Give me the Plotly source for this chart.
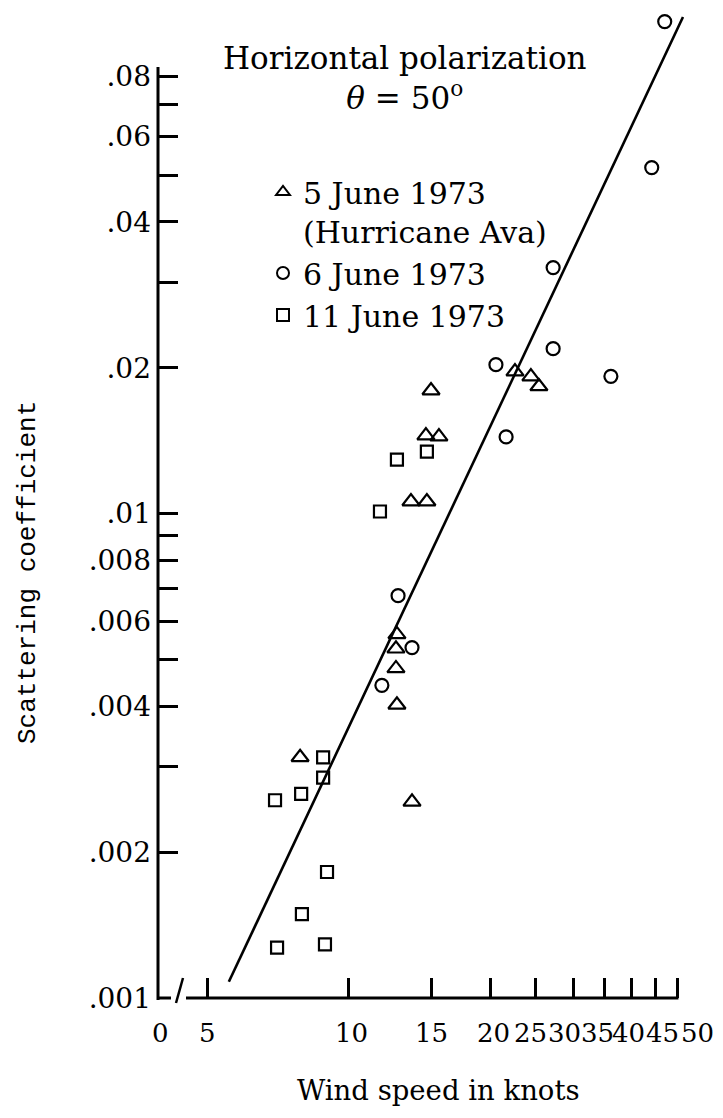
import math
import plotly.graph_objects as go

# --- measurements: wind speed (knots) vs. scattering coefficient -------------
june5_wind = [7.87, 13.62, 14.95, 14.58, 15.54, 13.55, 14.65, 12.65, 12.59,
              12.59, 12.65, 22.56, 24.39, 25.37]
june5_sigma = [0.00314, 0.00254, 0.01795, 0.01449, 0.01442, 0.01059, 0.01059,
               0.00563, 0.00526, 0.00479, 0.00403, 0.01964, 0.01918, 0.0183]

june6_wind = [47.0, 44.1, 27.2, 27.2, 36.1, 20.55, 21.6, 12.72, 13.62, 11.75]
june6_sigma = [0.1037, 0.0518, 0.0322, 0.0219, 0.0192, 0.0203, 0.0144,
               0.00677, 0.00529, 0.00442]

june11_wind = [14.65, 12.65, 11.64, 8.81, 8.81, 7.91, 6.96, 8.98, 7.94, 7.03, 8.89]
june11_sigma = [0.01343, 0.01293, 0.0101, 0.00314, 0.00285, 0.00264, 0.00256,
                0.00182, 0.00149, 0.00127, 0.00129]

# end points of the fitted power-law line
fit_wind = [5.55, 51.4]
fit_sigma = [0.00108, 0.106]

series_names = ["5 June 1973<br>(Hurricane Ava)", "6 June 1973", "11 June 1973"]

# --- axis ticks ---------------------------------------------------------------
x_tick_values = [5, 10, 15, 20, 25, 30, 35, 40, 45, 50]
x_tick_labels = ["5", "10", "15", "20", "25", "30", "35", "40", "45", "50"]
x_origin_label = "0"

y_tick_values = [0.001, 0.002, 0.004, 0.006, 0.008, 0.01, 0.02, 0.04, 0.06, 0.08]
y_tick_labels = [".001", ".002", ".004", ".006", ".008", ".01", ".02", ".04",
                 ".06", ".08"]
y_minor_values = [0.003, 0.005, 0.007, 0.009, 0.03, 0.05, 0.07]

# --- geometry -----------------------------------------------------------------
W, H = 723, 1118
L_PX, R_PX, T_PX, B_PX = 158, 705, 5, 998
X_LOG0 = 0.594                       # log10 of the broken-axis origin
X_LOG1 = X_LOG0 + (R_PX - L_PX) / 470.0
Y_LOG0 = -3.0
Y_LOG1 = Y_LOG0 + (B_PX - T_PX) / 484.4
X_ORIGIN = 10 ** (X_LOG0 + 0.0005)


def paper_x(px):
    return (px - L_PX) / (R_PX - L_PX)


def paper_y(py):
    return (B_PX - py) / (B_PX - T_PX)


def paper_x_of(v):
    return (math.log10(v) - X_LOG0) / (X_LOG1 - X_LOG0)


def paper_y_of(v):
    return (math.log10(v) - Y_LOG0) / (Y_LOG1 - Y_LOG0)


SERIF = "DejaVu Serif"
INK = "black"
TICK = dict(ticks="inside", ticklen=20, tickwidth=2.6, tickcolor=INK)

fig = go.Figure()

fig.add_trace(go.Scatter(
    x=fit_wind, y=fit_sigma, mode="lines",
    line=dict(color=INK, width=2.6), showlegend=False, hoverinfo="skip"))

marker_styles = [("triangle-up-open", 15), ("circle-open", 13), ("square-open", 12)]
for i, (name, xs, ys, (sym, size)) in enumerate(zip(
        series_names,
        [june5_wind, june6_wind, june11_wind],
        [june5_sigma, june6_sigma, june11_sigma],
        marker_styles)):
    fig.add_trace(go.Scatter(
        x=xs, y=ys, mode="markers", name=name, legendgroup=f"g{i}",
        marker=dict(symbol=sym, size=size, color=INK,
                    line=dict(color=INK, width=2.2))))

fig.update_xaxes(
    type="log", range=[X_LOG0 - 0.0005, X_LOG1],
    showline=False, showgrid=False, zeroline=False,
    tickmode="array", tickvals=[X_ORIGIN] + x_tick_values,
    showticklabels=False, **TICK)

fig.update_yaxes(
    type="log", range=[Y_LOG0, Y_LOG1],
    showline=False, showgrid=False, zeroline=False,
    tickmode="array", tickvals=y_tick_values, ticktext=y_tick_labels,
    ticklabelstandoff=6,
    tickfont=dict(family=SERIF, size=28, color=INK),
    minor=dict(tickmode="array", tickvals=y_minor_values, showgrid=False, **TICK),
    **TICK)

# axis lines with the break near the origin
axis_line = dict(color=INK, width=3)
shapes = [
    dict(type="line", xref="paper", yref="paper", x0=0, x1=0,
         y0=-0.002, y1=paper_y_of(0.0836), line=axis_line),
    dict(type="rect", xref="paper", yref="paper",
         x0=paper_x(171), x1=paper_x(186), y0=paper_y(1003), y1=paper_y(992),
         fillcolor="white", line=dict(width=0)),
    dict(type="line", xref="paper", yref="paper", x0=0, x1=paper_x(171),
         y0=0, y1=0, line=axis_line),
    dict(type="line", xref="paper", yref="paper",
         x0=paper_x(176), x1=paper_x(183), y0=paper_y(1003), y1=paper_y(978),
         line=dict(color=INK, width=2.5)),
    dict(type="line", xref="paper", yref="paper",
         x0=paper_x(186), x1=paper_x_of(50) + 0.002, y0=0, y1=0, line=axis_line),
]

# wind-speed labels: the upper ones are typed side by side, so each sits a
# few pixels off its tick
label_shift = {"0": 2, "10": 3, "20": 3, "25": -5, "30": -9, "35": -7,
               "40": -3, "45": 7, "50": 20}
x_label_font = dict(family=SERIF, size=26, color=INK)
annotations = []
for val, lab in zip([X_ORIGIN] + x_tick_values, [x_origin_label] + x_tick_labels):
    annotations.append(dict(
        text=lab, xref="x", yref="paper", x=math.log10(val), y=paper_y(1033),
        xanchor="center", yanchor="middle", xshift=label_shift.get(lab, 0),
        showarrow=False, font=x_label_font))

annotations += [
    dict(text="Horizontal polarization<br><i>θ</i> = 50<sup>o</sup>",
         xref="paper", yref="paper", x=paper_x(405), y=paper_y(78),
         xanchor="center", yanchor="middle", showarrow=False, align="center",
         font=dict(family=SERIF, size=31, color=INK)),
    dict(text="Scattering coefficient", textangle=-90,
         xref="paper", yref="paper", x=paper_x(28), y=paper_y(573),
         xanchor="center", yanchor="middle", showarrow=False,
         font=dict(family="Liberation Mono, Courier New, monospace", size=26, color=INK)),
    dict(text="Wind speed in knots",
         xref="paper", yref="paper", x=paper_x(438), y=paper_y(1090),
         xanchor="center", yanchor="middle", showarrow=False,
         font=dict(family=SERIF, size=27.5, color=INK)),
]

fig.update_layout(
    width=W, height=H,
    margin=dict(l=L_PX, r=W - R_PX, t=T_PX, b=H - B_PX, autoexpand=False),
    paper_bgcolor="white", plot_bgcolor="white",
    shapes=shapes, annotations=annotations,
    showlegend=True,
    legend=dict(x=paper_x(263), y=paper_y(166), xanchor="left", yanchor="top",
                font=dict(family=SERIF, size=30, color=INK),
                bgcolor="rgba(0,0,0,0)", borderwidth=0,
                itemsizing="constant", valign="top", traceorder="normal",
                tracegroupgap=7),
)

fig.write_html("out.html")
